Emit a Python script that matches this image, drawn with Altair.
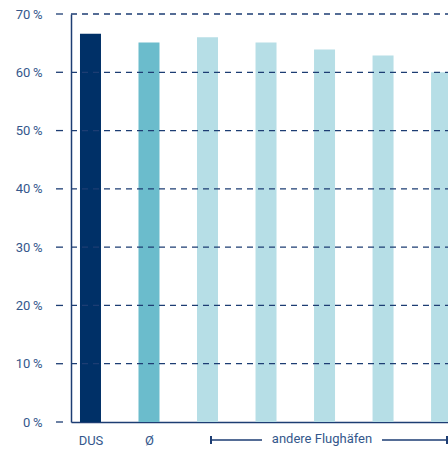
import altair as alt
import pandas as pd

# Share per airport (percent); the first bar is DUS, the second the average
labels = ["DUS", "Ø", "", "", "", "", ""]
shares = [66.6, 65.1, 66.0, 65.1, 63.9, 62.9, 60.0]
groups = ["DUS", "Ø", "andere", "andere", "andere", "andere", "andere"]
group_names = ["DUS", "Ø", "andere"]
group_colors = ["#003067", "#6bbccc", "#b6dee6"]
y_ticks = [0, 10, 20, 30, 40, 50, 60, 70]
bracket_text = "andere Flughäfen"

FONT = "Roboto"
FS = 13
TEXT = "#34578c"
LINE = "#1d3d73"
W, H = 377, 408

df = pd.DataFrame({"pos": list(range(len(shares))), "label": labels,
                   "share": shares, "group": groups})
ticks_df = pd.DataFrame({"v": y_ticks})
grid_df = pd.DataFrame({"v": [v for v in y_ticks if v > 0]})

label_expr = "[" + ",".join("'" + s + "'" for s in labels) + "][datum.value]"

x_scale = alt.Scale(domain=[-0.333, 6.11], nice=False, zero=False, padding=0)
y_scale = alt.Scale(domain=[0, 70], nice=False)

bars = alt.Chart(df).mark_bar(size=21, clip=True).encode(
    x=alt.X("pos:Q", scale=x_scale,
            axis=alt.Axis(values=[0, 1], labelExpr=label_expr, ticks=False, tickSize=0,
                          grid=False, domainColor=LINE, domainWidth=1.5,
                          labelPadding=12, labelFont=FONT, labelFontSize=FS,
                          labelColor=TEXT, title=None)),
    y=alt.Y("share:Q", scale=y_scale,
            axis=alt.Axis(values=y_ticks, labelExpr="datum.value + '\u2009%'",
                          ticks=False, tickSize=0, grid=False, domainColor=LINE,
                          domainWidth=1.5, labelPadding=29, labelFont=FONT,
                          labelFontSize=FS, labelColor=TEXT, title=None)),
    color=alt.Color("group:N", scale=alt.Scale(domain=group_names, range=group_colors),
                    legend=None),
)

grid = alt.Chart(grid_df).mark_rule(color=LINE, strokeWidth=1.3, strokeDash=[6, 5]).encode(
    x=alt.value(0), x2=alt.value(W), y=alt.Y("v:Q", scale=y_scale),
)

ticks = alt.Chart(ticks_df).mark_rule(color=LINE, strokeWidth=1.3).encode(
    x=alt.value(-15), x2=alt.value(-8), y=alt.Y("v:Q", scale=y_scale),
)

# Bracket under the other airports
bl = alt.Chart(pd.DataFrame({"a": [0]})).mark_rule(color=LINE, strokeWidth=1.5).encode(
    x=alt.value(139), x2=alt.value(191), y=alt.value(426))
br = alt.Chart(pd.DataFrame({"a": [0]})).mark_rule(color=LINE, strokeWidth=1.5).encode(
    x=alt.value(311), x2=alt.value(376), y=alt.value(426))
cl = alt.Chart(pd.DataFrame({"a": [0]})).mark_rule(color=LINE, strokeWidth=2).encode(
    x=alt.value(140), y=alt.value(422), y2=alt.value(430))
cr = alt.Chart(pd.DataFrame({"a": [0]})).mark_rule(color=LINE, strokeWidth=2).encode(
    x=alt.value(376), y=alt.value(422), y2=alt.value(430))
btxt = alt.Chart(pd.DataFrame({"t": [bracket_text]})).mark_text(
    font=FONT, fontSize=FS, color=TEXT, align="center", baseline="middle").encode(
    text="t:N", x=alt.value(251), y=alt.value(425))

chart = alt.layer(bars, grid, ticks, bl, br, cl, cr, btxt).properties(
    width=W, height=H,
    autosize=alt.AutoSizeParams(type="none"),
    padding={"left": 71, "top": 14, "right": 0, "bottom": 27},
).configure_view(stroke=None)

chart.save("out.html", embed_options={"renderer": "svg", "actions": False})
